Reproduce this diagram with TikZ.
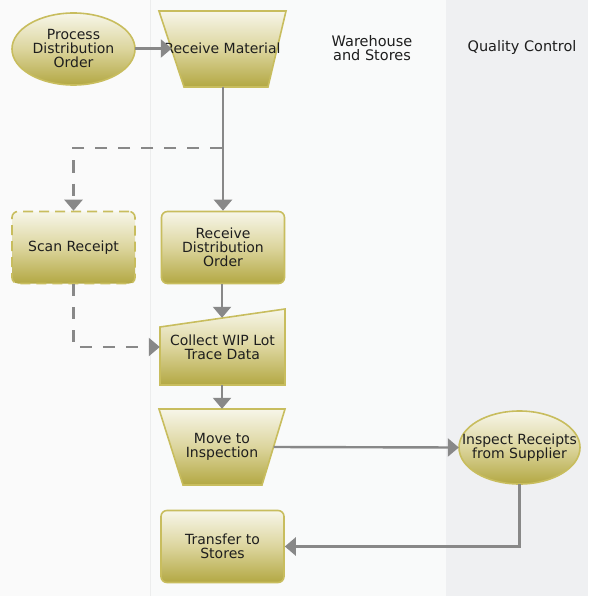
\documentclass[tikz,border=0pt]{standalone}
\usepackage{fontspec}
\setmainfont{DejaVu Sans}
\usetikzlibrary{arrows.meta,calc,shapes.geometric}
\definecolor{laneA}{HTML}{FAFAFA}
\definecolor{laneB}{HTML}{F9FAFA}
\definecolor{laneC}{HTML}{EFF0F2}
\definecolor{laneline}{HTML}{ECEDED}
\definecolor{edgec}{HTML}{C8BD5E}
\definecolor{topc}{HTML}{F7F6E9}
\definecolor{midc}{HTML}{DCD59D}
\definecolor{botc}{HTML}{B3A843}
\definecolor{txt}{HTML}{1E1E1E}
\definecolor{arrowc}{HTML}{888888}
\begin{document}
\begin{tikzpicture}[x=1pt,y=-1pt,
  flow/.style={draw=edgec, line width=1.6pt, top color=topc, bottom color=botc, middle color=midc},
  txtnode/.style={text=txt, align=center, font=\fontsize{14}{13.9}\selectfont, inner sep=0pt},
  proc/.style={flow, txtnode, rounded corners=6pt, minimum width=123pt, minimum height=72pt},
  dproc/.style={proc, dash pattern=on 10pt off 6pt},
  conn/.style={draw=arrowc, line width=2.4pt, -{Triangle[length=11pt,width=18pt]}},
  dconn/.style={conn, dash pattern=on 12pt off 11pt},
  lanelbl/.style={text=txt, align=center, font=\fontsize{14.5}{14.3}\selectfont, inner sep=0pt}]
\useasboundingbox (0,0) rectangle (588,596);
% lanes
\fill[laneA] (0,0) rectangle (150,596);
\fill[laneB] (150,0) rectangle (446,596);
\fill[laneC] (446,0) rectangle (588,596);
\draw[laneline, line width=0.8pt] (150,0) -- (150,596);
% lane labels
\node[lanelbl] (lw) at (372,48) {Warehouse\\and Stores};
\node[lanelbl] (lq) at (522,48) {Quality Control};
% custom shapes
\path[flow] (73.5,49) ellipse [x radius=61.5pt, y radius=36pt];
\path[flow] (519.5,447.5) ellipse [x radius=60.5pt, y radius=36.5pt];
\path[flow] (159,11) -- (286,11) -- (268,87) -- (184,87) -- cycle;
\path[flow] (160,327) -- (285,309) -- (285,385) -- (160,385) -- cycle;
\path[flow] (159,409) -- (285,409) -- (262,485) -- (183,485) -- cycle;
% nodes
\node[txtnode, minimum width=123pt, minimum height=72pt] (pdo) at (73.5,48.5) {Process\\Distribution\\Order};
\node[txtnode, minimum width=127pt, minimum height=76pt] (rm) at (222.5,48.5) {Receive Material};
\node[dproc] (sr) at (73.5,247.5) {Scan Receipt};
\node[proc] (rdo) at (223,247.5) {Receive\\Distribution\\Order};
\node[txtnode, minimum width=125pt, minimum height=76pt] (cw) at (222.5,347) {Collect WIP Lot\\Trace Data};
\node[txtnode, minimum width=126pt, minimum height=76pt] (mi) at (222,447) {Move to\\Inspection};
\node[txtnode, minimum width=121pt, minimum height=73pt] (ir) at (519.5,447.5) {Inspect Receipts\\from Supplier};
\node[proc] (ts) at (222.5,546.5) {Transfer to\\Stores};
% connectors
\coordinate (j1) at (222,148);
\draw[conn] (pdo.east) -- ($(rm.west)+(13,0)$);
\draw[conn] (rm.south -| rdo.north) -- (rdo.north);
\draw[dconn] (j1) -| (sr.north);
\draw[conn] (rdo.south -| 222,0) -- ($(cw.north)+(-0.5,9)$);
\draw[dconn] (sr.south) |- (cw.west);
\draw[conn] ($(cw.south)+(-0.5,0)$) -- ($(mi.north)$);
\draw[conn] ($(mi.east)+(-11.5,0)$) -- (ir.west);
\draw[conn] (ir.south) |- (ts.east);
\end{tikzpicture}
\end{document}
